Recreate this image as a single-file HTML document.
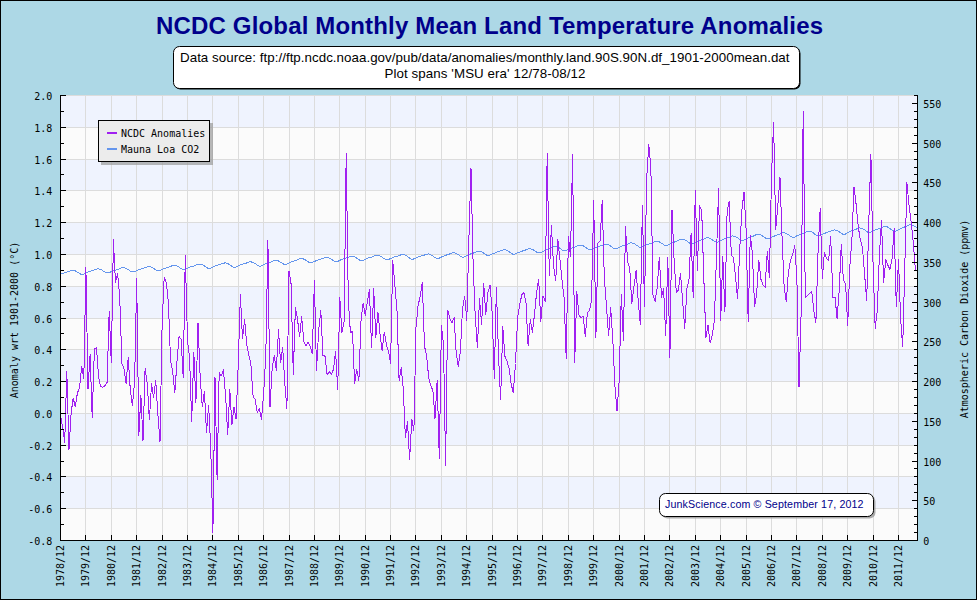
<!DOCTYPE html>
<html lang="en"><head><meta charset="utf-8">
<title>NCDC Global Monthly Mean Land Temperature Anomalies</title>
<style>
html,body{margin:0;padding:0;background:#add8e6;}
svg{display:block;}
.m{font-family:"DejaVu Sans Mono", "Liberation Mono", monospace;font-size:10px;fill:#000;}
.s{font-family:"Liberation Sans", Arial, sans-serif;}
</style></head><body>
<svg width="977" height="600" viewBox="0 0 977 600">
<rect x="0" y="0" width="977" height="600" fill="#add8e6"/>
<rect x="0.5" y="0.5" width="976" height="599" fill="none" stroke="#000" stroke-width="1"/>
<g shape-rendering="crispEdges">
<rect x="60" y="95" width="857" height="445" fill="#fbfbfb"/>
<rect x="60" y="95" width="857" height="32" fill="#eff3fe"/>
<rect x="60" y="159" width="857" height="31" fill="#eff3fe"/>
<rect x="60" y="222" width="857" height="32" fill="#eff3fe"/>
<rect x="60" y="286" width="857" height="32" fill="#eff3fe"/>
<rect x="60" y="349" width="857" height="32" fill="#eff3fe"/>
<rect x="60" y="413" width="857" height="32" fill="#eff3fe"/>
<rect x="60" y="476" width="857" height="32" fill="#eff3fe"/>
<path d="M60 95.5H917M60 127.5H917M60 159.5H917M60 190.5H917M60 222.5H917M60 254.5H917M60 286.5H917M60 318.5H917M60 349.5H917M60 381.5H917M60 413.5H917M60 445.5H917M60 476.5H917M60 508.5H917M85.5 95V540M111.5 95V540M136.5 95V540M162.5 95V540M187.5 95V540M212.5 95V540M238.5 95V540M263.5 95V540M289.5 95V540M314.5 95V540M339.5 95V540M365.5 95V540M390.5 95V540M415.5 95V540M441.5 95V540M466.5 95V540M492.5 95V540M517.5 95V540M542.5 95V540M568.5 95V540M593.5 95V540M619.5 95V540M644.5 95V540M669.5 95V540M695.5 95V540M720.5 95V540M746.5 95V540M771.5 95V540M796.5 95V540M822.5 95V540M847.5 95V540M873.5 95V540M898.5 95V540" stroke="#dcdcdc" stroke-width="1" fill="none"/>
</g>
<polyline points="60.0,274.5 62.1,273.6 64.2,272.8 66.3,272.3 68.5,271.6 70.6,270.7 72.7,270.3 74.8,270.7 76.9,271.8 79.0,273.2 81.2,274.4 83.3,274.3 85.4,273.3 87.5,272.3 89.6,271.5 91.7,270.9 93.9,270.2 96.0,269.2 98.1,268.8 100.2,269.2 102.3,270.3 104.4,271.8 106.6,272.9 108.7,272.9 110.8,271.9 112.9,271.0 115.0,270.2 117.1,269.6 119.2,268.9 121.4,268.0 123.5,267.6 125.6,268.1 127.7,269.2 129.8,270.7 131.9,271.9 134.1,271.8 136.2,270.9 138.3,269.9 140.4,269.1 142.5,268.6 144.6,267.9 146.8,267.0 148.9,266.6 151.0,267.0 153.1,268.1 155.2,269.6 157.3,270.8 159.5,270.7 161.6,269.7 163.7,268.8 165.8,268.0 167.9,267.4 170.0,266.7 172.2,265.7 174.3,265.3 176.4,265.8 178.5,266.9 180.6,268.3 182.7,269.5 184.8,269.5 187.0,268.5 189.1,267.5 191.2,266.7 193.3,266.1 195.4,265.4 197.5,264.5 199.7,264.0 201.8,264.5 203.9,265.6 206.0,267.1 208.1,268.3 210.2,268.3 212.4,267.3 214.5,266.3 216.6,265.5 218.7,264.9 220.8,264.2 222.9,263.3 225.1,262.9 227.2,263.3 229.3,264.5 231.4,266.0 233.5,267.2 235.6,267.2 237.7,266.2 239.9,265.2 242.0,264.4 244.1,263.8 246.2,263.1 248.3,262.2 250.4,261.8 252.6,262.2 254.7,263.3 256.8,264.8 258.9,266.0 261.0,266.0 263.1,264.9 265.3,264.0 267.4,263.1 269.5,262.5 271.6,261.8 273.7,260.8 275.8,260.4 278.0,260.8 280.1,261.9 282.2,263.3 284.3,264.5 286.4,264.4 288.5,263.3 290.6,262.3 292.8,261.4 294.9,260.8 297.0,260.0 299.1,259.0 301.2,258.5 303.3,258.9 305.5,260.0 307.6,261.5 309.7,262.7 311.8,262.7 313.9,261.7 316.0,260.8 318.2,259.9 320.3,259.3 322.4,258.6 324.5,257.6 326.6,257.2 328.7,257.7 330.9,258.8 333.0,260.4 335.1,261.6 337.2,261.6 339.3,260.6 341.4,259.6 343.6,258.8 345.7,258.2 347.8,257.5 349.9,256.6 352.0,256.2 354.1,256.6 356.2,257.8 358.4,259.3 360.5,260.6 362.6,260.6 364.7,259.6 366.8,258.6 368.9,257.8 371.1,257.2 373.2,256.5 375.3,255.6 377.4,255.2 379.5,255.7 381.6,256.9 383.8,258.4 385.9,259.7 388.0,259.7 390.1,258.8 392.2,257.8 394.3,257.0 396.5,256.5 398.6,255.8 400.7,254.9 402.8,254.5 404.9,255.0 407.0,256.2 409.1,257.8 411.3,259.1 413.4,259.1 415.5,258.2 417.6,257.2 419.7,256.4 421.8,255.9 424.0,255.2 426.1,254.3 428.2,253.9 430.3,254.4 432.4,255.6 434.5,257.2 436.7,258.4 438.8,258.4 440.9,257.3 443.0,256.3 445.1,255.5 447.2,254.8 449.4,254.1 451.5,253.1 453.6,252.7 455.7,253.1 457.8,254.3 459.9,255.8 462.0,257.0 464.2,257.0 466.3,255.9 468.4,254.9 470.5,254.0 472.6,253.3 474.7,252.6 476.9,251.6 479.0,251.1 481.1,251.5 483.2,252.7 485.3,254.2 487.4,255.5 489.6,255.4 491.7,254.3 493.8,253.4 495.9,252.5 498.0,251.8 500.1,251.1 502.3,250.1 504.4,249.6 506.5,250.1 508.6,251.3 510.7,252.9 512.8,254.2 515.0,254.2 517.1,253.1 519.2,252.2 521.3,251.3 523.4,250.8 525.5,250.0 527.6,249.1 529.8,248.7 531.9,249.2 534.0,250.3 536.1,251.8 538.2,253.0 540.3,252.9 542.5,251.7 544.6,250.6 546.7,249.7 548.8,248.9 550.9,248.1 553.0,247.0 555.2,246.5 557.3,246.9 559.4,248.0 561.5,249.6 563.6,250.8 565.7,250.8 567.9,249.7 570.0,248.7 572.1,247.9 574.2,247.2 576.3,246.5 578.4,245.5 580.5,245.1 582.7,245.5 584.8,246.7 586.9,248.3 589.0,249.6 591.1,249.6 593.2,248.6 595.4,247.6 597.5,246.8 599.6,246.2 601.7,245.4 603.8,244.5 605.9,244.1 608.1,244.6 610.2,245.8 612.3,247.4 614.4,248.6 616.5,248.6 618.6,247.5 620.8,246.5 622.9,245.7 625.0,245.0 627.1,244.3 629.2,243.3 631.3,242.8 633.4,243.3 635.6,244.5 637.7,246.0 639.8,247.3 641.9,247.2 644.0,246.1 646.1,245.1 648.3,244.2 650.4,243.5 652.5,242.7 654.6,241.7 656.7,241.2 658.8,241.6 661.0,242.8 663.1,244.3 665.2,245.5 667.3,245.5 669.4,244.3 671.5,243.2 673.7,242.3 675.8,241.6 677.9,240.7 680.0,239.7 682.1,239.2 684.2,239.6 686.4,240.7 688.5,242.4 690.6,243.6 692.7,243.6 694.8,242.5 696.9,241.5 699.0,240.6 701.2,240.0 703.3,239.2 705.4,238.2 707.5,237.7 709.6,238.2 711.7,239.4 713.9,240.9 716.0,242.2 718.1,242.1 720.2,241.0 722.3,239.9 724.4,239.0 726.6,238.3 728.7,237.5 730.8,236.4 732.9,235.9 735.0,236.4 737.1,237.5 739.3,239.1 741.4,240.4 743.5,240.4 745.6,239.2 747.7,238.2 749.8,237.2 751.9,236.6 754.1,235.8 756.2,234.7 758.3,234.2 760.4,234.7 762.5,235.9 764.6,237.5 766.8,238.8 768.9,238.7 771.0,237.6 773.1,236.6 775.2,235.7 777.3,235.0 779.5,234.2 781.6,233.2 783.7,232.7 785.8,233.2 787.9,234.4 790.0,236.0 792.2,237.3 794.3,237.3 796.4,236.1 798.5,235.1 800.6,234.2 802.7,233.5 804.8,232.7 807.0,231.7 809.1,231.3 811.2,231.7 813.3,232.9 815.4,234.6 817.5,235.9 819.7,235.8 821.8,234.7 823.9,233.7 826.0,232.8 828.1,232.1 830.2,231.3 832.4,230.3 834.5,229.8 836.6,230.3 838.7,231.5 840.8,233.1 842.9,234.3 845.1,234.3 847.2,233.1 849.3,232.0 851.4,231.0 853.5,230.3 855.6,229.5 857.8,228.4 859.9,227.9 862.0,228.3 864.1,229.5 866.2,231.2 868.3,232.5 870.4,232.5 872.6,231.3 874.7,230.3 876.8,229.4 878.9,228.7 881.0,227.9 883.1,226.9 885.3,226.5 887.4,226.9 889.5,228.2 891.6,229.8 893.7,231.1 895.8,231.0 898.0,229.9 900.1,228.8 902.2,227.8 904.3,227.1 906.4,226.3 908.5,225.2 910.7,224.7 912.8,225.2 914.9,226.4 917.0,228.0" fill="none" stroke="#6495ed" stroke-width="1" stroke-linejoin="round" shape-rendering="crispEdges"/>
<polyline points="60.5,414.4 62.6,427.5 64.7,442.2 66.8,371.0 69.0,449.6 71.1,413.0 73.2,398.0 75.3,407.0 77.4,393.0 79.5,388.0 81.7,366.0 83.8,378.3 85.9,267.8 88.0,389.0 90.1,354.6 92.2,417.7 94.4,348.8 96.5,348.0 98.6,377.5 100.7,386.5 102.8,387.4 104.9,385.6 107.1,382.5 109.2,311.2 111.3,362.8 113.4,239.9 115.5,282.5 117.6,274.0 119.7,296.0 121.9,363.6 124.0,368.5 126.1,383.5 128.2,357.8 130.3,390.0 132.4,405.4 134.6,382.0 136.7,278.9 138.8,435.7 140.9,395.6 143.0,440.6 145.1,368.5 147.3,384.0 149.4,420.0 151.5,384.0 153.6,398.0 155.7,380.0 157.8,413.0 160.0,442.2 162.1,325.0 164.2,277.3 166.3,283.0 168.4,302.0 170.5,360.0 172.7,371.5 174.8,393.0 176.9,362.8 179.0,336.6 181.1,339.0 183.2,377.5 185.3,255.0 187.5,340.0 189.6,358.7 191.7,421.8 193.8,352.1 195.9,402.9 198.0,323.0 200.2,377.5 202.3,407.0 204.4,391.4 206.5,432.4 208.6,405.4 210.7,446.0 212.9,533.0 215.0,377.5 217.1,479.4 219.2,372.6 221.3,375.9 223.4,370.0 225.6,395.5 227.7,435.0 229.8,389.8 231.9,425.0 234.0,407.0 236.1,419.0 238.2,365.0 240.4,294.8 242.5,339.0 244.6,319.3 246.7,344.0 248.8,354.6 250.9,364.4 253.1,396.3 255.2,399.6 257.3,412.7 259.4,408.6 261.5,419.5 263.6,394.0 265.8,355.0 267.9,239.9 270.0,407.0 272.1,369.3 274.2,355.4 276.3,370.1 278.5,330.0 280.6,362.8 282.7,347.2 284.8,384.0 286.9,408.3 289.0,271.0 291.1,284.0 293.3,374.2 295.4,307.0 297.5,319.3 299.6,336.6 301.7,316.9 303.8,341.5 306.0,345.6 308.1,342.3 310.2,346.4 312.3,353.7 314.4,280.0 316.5,370.1 318.7,330.0 320.8,310.3 322.9,355.4 325.0,356.2 327.1,375.0 329.2,371.8 331.4,374.2 333.5,369.3 335.6,351.3 337.7,389.8 339.8,297.2 341.9,332.5 344.1,322.0 346.2,153.8 348.3,300.0 350.4,332.5 352.5,331.5 354.6,384.0 356.7,369.3 358.9,380.5 361.0,321.0 363.1,303.0 365.2,315.2 367.3,302.0 369.4,289.9 371.6,348.0 373.7,288.2 375.8,337.4 377.9,312.0 380.0,333.5 382.1,350.5 384.3,332.0 386.4,344.7 388.5,351.3 390.6,363.6 392.7,260.4 394.8,284.0 397.0,311.0 399.1,380.5 401.2,367.7 403.3,389.0 405.4,438.0 407.5,421.3 409.6,459.3 411.8,419.3 413.9,430.7 416.0,327.0 418.1,305.4 420.2,296.4 422.3,282.5 424.5,346.0 426.6,356.2 428.7,377.5 430.8,385.7 432.9,390.6 435.0,418.5 437.2,380.0 439.3,458.7 441.4,325.9 443.5,344.4 445.6,465.3 447.7,310.3 449.9,318.5 452.0,322.6 454.1,317.7 456.2,353.0 458.3,366.8 460.4,351.3 462.5,308.7 464.7,296.4 466.8,320.2 468.9,238.4 471.0,168.0 473.1,263.0 475.2,315.2 477.4,348.0 479.5,298.9 481.6,324.3 483.7,283.3 485.8,314.4 487.9,292.3 490.1,285.0 492.2,313.6 494.3,378.3 496.4,287.1 498.5,354.6 500.6,399.6 502.8,326.7 504.9,356.2 507.0,361.0 509.1,368.5 511.2,384.0 513.3,393.0 515.5,363.5 517.6,318.0 519.7,304.6 521.8,294.8 523.9,292.3 526.0,303.0 528.1,346.0 530.3,319.0 532.4,332.3 534.5,314.4 536.6,292.3 538.7,279.2 540.8,322.0 543.0,295.6 545.1,301.3 547.2,153.3 549.3,276.0 551.4,225.3 553.5,265.3 555.7,280.9 557.8,239.5 559.9,258.7 562.0,280.0 564.1,298.0 566.2,358.5 568.4,236.5 570.5,256.3 572.6,154.1 574.7,362.6 576.8,291.5 578.9,315.2 581.0,317.7 583.2,316.0 585.3,336.4 587.4,312.8 589.5,310.3 591.6,300.0 593.7,200.0 595.9,337.2 598.0,243.2 600.1,240.7 602.2,200.9 604.3,277.0 606.4,305.4 608.6,335.6 610.7,307.9 612.8,339.7 614.9,385.5 617.0,411.4 619.1,382.2 621.3,294.8 623.4,340.5 625.5,226.8 627.6,262.0 629.7,267.8 631.8,303.8 633.9,287.4 636.1,270.2 638.2,300.5 640.3,324.5 642.4,205.5 644.5,307.0 646.6,180.0 648.8,144.1 650.9,168.7 653.0,294.8 655.1,301.3 657.2,287.4 659.3,257.1 661.5,297.2 663.6,289.0 665.7,335.6 667.8,257.9 669.9,357.7 672.0,210.1 674.2,262.0 676.3,292.3 678.4,289.9 680.5,273.5 682.6,300.5 684.7,328.3 686.9,289.0 689.0,279.2 691.1,233.4 693.2,298.0 695.3,190.0 697.4,270.2 699.5,205.8 701.7,210.4 703.8,277.6 705.9,338.0 708.0,325.4 710.1,342.9 712.2,335.6 714.4,320.0 716.5,254.7 718.6,188.8 720.7,320.5 722.8,256.3 724.9,312.0 727.1,212.0 729.2,201.0 731.3,254.7 733.4,257.9 735.5,276.0 737.6,298.9 739.8,248.0 741.9,210.0 744.0,192.1 746.1,230.0 748.2,321.3 750.3,235.0 752.4,253.5 754.6,307.0 756.7,293.0 758.8,260.2 760.9,279.2 763.0,285.0 765.1,287.4 767.3,251.0 769.4,278.0 771.5,176.0 773.6,122.1 775.7,229.8 777.8,206.0 780.0,177.2 782.1,238.0 784.2,288.0 786.3,302.0 788.4,272.0 790.5,260.5 792.7,254.0 794.8,245.4 796.9,279.0 799.0,387.1 801.1,314.0 803.2,111.8 805.3,297.2 807.5,295.6 809.6,293.3 811.7,291.5 813.8,310.5 815.9,322.6 818.0,253.0 820.2,208.0 822.3,278.4 824.4,252.4 826.5,258.5 828.6,261.0 830.7,236.8 832.9,298.0 835.0,297.2 837.1,318.5 839.2,290.7 841.3,244.0 843.4,280.0 845.6,284.0 847.7,325.9 849.8,267.2 851.9,240.0 854.0,187.2 856.1,204.2 858.3,227.2 860.4,240.0 862.5,248.0 864.6,274.3 866.7,300.5 868.8,222.0 870.9,154.0 873.1,266.0 875.2,328.4 877.3,310.3 879.4,255.0 881.5,221.0 883.6,282.5 885.8,259.8 887.9,265.3 890.0,269.4 892.1,258.7 894.2,228.0 896.3,307.0 898.5,259.6 900.6,318.5 902.7,346.7 904.8,267.0 906.9,182.8 909.0,204.9 911.2,222.0 913.3,243.0 915.4,270.2" fill="none" stroke="#a020f0" stroke-width="1" stroke-linejoin="round" shape-rendering="crispEdges"/>
<g shape-rendering="crispEdges" stroke="#000" stroke-width="1" fill="none">
<path d="M60.5 95V541M917.5 95V541M60 540.5H918M60 95.5h6M60 111.5h4M60 127.5h6M60 143.5h4M60 159.5h6M60 174.5h4M60 190.5h6M60 206.5h4M60 222.5h6M60 238.5h4M60 254.5h6M60 270.5h4M60 286.5h6M60 302.5h4M60 318.5h6M60 333.5h4M60 349.5h6M60 365.5h4M60 381.5h6M60 397.5h4M60 413.5h6M60 429.5h4M60 445.5h6M60 461.5h4M60 476.5h6M60 492.5h4M60 508.5h6M60 524.5h4M60 540.5h6M918 540.5h-6M918 532.5h-4M918 524.5h-4M918 516.5h-4M918 508.5h-4M918 500.5h-6M918 492.5h-4M918 484.5h-4M918 476.5h-4M918 468.5h-4M918 461.5h-6M918 453.5h-4M918 445.5h-4M918 437.5h-4M918 429.5h-4M918 421.5h-6M918 413.5h-4M918 405.5h-4M918 397.5h-4M918 389.5h-4M918 381.5h-6M918 373.5h-4M918 365.5h-4M918 357.5h-4M918 349.5h-4M918 341.5h-6M918 333.5h-4M918 325.5h-4M918 318.5h-4M918 310.5h-4M918 302.5h-6M918 294.5h-4M918 286.5h-4M918 278.5h-4M918 270.5h-4M918 262.5h-6M918 254.5h-4M918 246.5h-4M918 238.5h-4M918 230.5h-4M918 222.5h-6M918 214.5h-4M918 206.5h-4M918 198.5h-4M918 190.5h-4M918 182.5h-6M918 174.5h-4M918 167.5h-4M918 159.5h-4M918 151.5h-4M918 143.5h-6M918 135.5h-4M918 127.5h-4M918 119.5h-4M918 111.5h-4M918 103.5h-6M918 95.5h-4M85.5 540v-5M111.5 540v-5M136.5 540v-5M162.5 540v-5M187.5 540v-5M212.5 540v-5M238.5 540v-5M263.5 540v-5M289.5 540v-5M314.5 540v-5M339.5 540v-5M365.5 540v-5M390.5 540v-5M415.5 540v-5M441.5 540v-5M466.5 540v-5M492.5 540v-5M517.5 540v-5M542.5 540v-5M568.5 540v-5M593.5 540v-5M619.5 540v-5M644.5 540v-5M669.5 540v-5M695.5 540v-5M720.5 540v-5M746.5 540v-5M771.5 540v-5M796.5 540v-5M822.5 540v-5M847.5 540v-5M873.5 540v-5M898.5 540v-5"/>
</g>
<text class="m" text-anchor="end" transform="translate(52.3 99.6) scale(1 1.06)">2.0</text>
<text class="m" text-anchor="end" transform="translate(52.3 131.6) scale(1 1.06)">1.8</text>
<text class="m" text-anchor="end" transform="translate(52.3 163.6) scale(1 1.06)">1.6</text>
<text class="m" text-anchor="end" transform="translate(52.3 194.6) scale(1 1.06)">1.4</text>
<text class="m" text-anchor="end" transform="translate(52.3 226.6) scale(1 1.06)">1.2</text>
<text class="m" text-anchor="end" transform="translate(52.3 258.6) scale(1 1.06)">1.0</text>
<text class="m" text-anchor="end" transform="translate(52.3 290.6) scale(1 1.06)">0.8</text>
<text class="m" text-anchor="end" transform="translate(52.3 322.6) scale(1 1.06)">0.6</text>
<text class="m" text-anchor="end" transform="translate(52.3 353.6) scale(1 1.06)">0.4</text>
<text class="m" text-anchor="end" transform="translate(52.3 385.6) scale(1 1.06)">0.2</text>
<text class="m" text-anchor="end" transform="translate(52.3 417.6) scale(1 1.06)">0.0</text>
<text class="m" text-anchor="end" transform="translate(52.3 449.6) scale(1 1.06)">-0.2</text>
<text class="m" text-anchor="end" transform="translate(52.3 480.6) scale(1 1.06)">-0.4</text>
<text class="m" text-anchor="end" transform="translate(52.3 512.6) scale(1 1.06)">-0.6</text>
<text class="m" text-anchor="end" transform="translate(52.3 544.6) scale(1 1.06)">-0.8</text>
<text class="m" text-anchor="start" transform="translate(923.3 544.6) scale(1 1.06)">0</text>
<text class="m" text-anchor="start" transform="translate(923.3 504.6) scale(1 1.06)">50</text>
<text class="m" text-anchor="start" transform="translate(923.3 465.6) scale(1 1.06)">100</text>
<text class="m" text-anchor="start" transform="translate(923.3 425.6) scale(1 1.06)">150</text>
<text class="m" text-anchor="start" transform="translate(923.3 385.6) scale(1 1.06)">200</text>
<text class="m" text-anchor="start" transform="translate(923.3 345.6) scale(1 1.06)">250</text>
<text class="m" text-anchor="start" transform="translate(923.3 306.6) scale(1 1.06)">300</text>
<text class="m" text-anchor="start" transform="translate(923.3 266.6) scale(1 1.06)">350</text>
<text class="m" text-anchor="start" transform="translate(923.3 226.6) scale(1 1.06)">400</text>
<text class="m" text-anchor="start" transform="translate(923.3 186.6) scale(1 1.06)">450</text>
<text class="m" text-anchor="start" transform="translate(923.3 147.6) scale(1 1.06)">500</text>
<text class="m" text-anchor="start" transform="translate(923.3 107.6) scale(1 1.06)">550</text>
<text class="m" text-anchor="end" transform="translate(64.2 545.0) rotate(-90) scale(1 1.06)">1978/12</text>
<text class="m" text-anchor="end" transform="translate(89.2 545.0) rotate(-90) scale(1 1.06)">1979/12</text>
<text class="m" text-anchor="end" transform="translate(115.2 545.0) rotate(-90) scale(1 1.06)">1980/12</text>
<text class="m" text-anchor="end" transform="translate(140.2 545.0) rotate(-90) scale(1 1.06)">1981/12</text>
<text class="m" text-anchor="end" transform="translate(166.2 545.0) rotate(-90) scale(1 1.06)">1982/12</text>
<text class="m" text-anchor="end" transform="translate(191.2 545.0) rotate(-90) scale(1 1.06)">1983/12</text>
<text class="m" text-anchor="end" transform="translate(216.2 545.0) rotate(-90) scale(1 1.06)">1984/12</text>
<text class="m" text-anchor="end" transform="translate(242.2 545.0) rotate(-90) scale(1 1.06)">1985/12</text>
<text class="m" text-anchor="end" transform="translate(267.2 545.0) rotate(-90) scale(1 1.06)">1986/12</text>
<text class="m" text-anchor="end" transform="translate(293.2 545.0) rotate(-90) scale(1 1.06)">1987/12</text>
<text class="m" text-anchor="end" transform="translate(318.2 545.0) rotate(-90) scale(1 1.06)">1988/12</text>
<text class="m" text-anchor="end" transform="translate(343.2 545.0) rotate(-90) scale(1 1.06)">1989/12</text>
<text class="m" text-anchor="end" transform="translate(369.2 545.0) rotate(-90) scale(1 1.06)">1990/12</text>
<text class="m" text-anchor="end" transform="translate(394.2 545.0) rotate(-90) scale(1 1.06)">1991/12</text>
<text class="m" text-anchor="end" transform="translate(419.2 545.0) rotate(-90) scale(1 1.06)">1992/12</text>
<text class="m" text-anchor="end" transform="translate(445.2 545.0) rotate(-90) scale(1 1.06)">1993/12</text>
<text class="m" text-anchor="end" transform="translate(470.2 545.0) rotate(-90) scale(1 1.06)">1994/12</text>
<text class="m" text-anchor="end" transform="translate(496.2 545.0) rotate(-90) scale(1 1.06)">1995/12</text>
<text class="m" text-anchor="end" transform="translate(521.2 545.0) rotate(-90) scale(1 1.06)">1996/12</text>
<text class="m" text-anchor="end" transform="translate(546.2 545.0) rotate(-90) scale(1 1.06)">1997/12</text>
<text class="m" text-anchor="end" transform="translate(572.2 545.0) rotate(-90) scale(1 1.06)">1998/12</text>
<text class="m" text-anchor="end" transform="translate(597.2 545.0) rotate(-90) scale(1 1.06)">1999/12</text>
<text class="m" text-anchor="end" transform="translate(623.2 545.0) rotate(-90) scale(1 1.06)">2000/12</text>
<text class="m" text-anchor="end" transform="translate(648.2 545.0) rotate(-90) scale(1 1.06)">2001/12</text>
<text class="m" text-anchor="end" transform="translate(673.2 545.0) rotate(-90) scale(1 1.06)">2002/12</text>
<text class="m" text-anchor="end" transform="translate(699.2 545.0) rotate(-90) scale(1 1.06)">2003/12</text>
<text class="m" text-anchor="end" transform="translate(724.2 545.0) rotate(-90) scale(1 1.06)">2004/12</text>
<text class="m" text-anchor="end" transform="translate(750.2 545.0) rotate(-90) scale(1 1.06)">2005/12</text>
<text class="m" text-anchor="end" transform="translate(775.2 545.0) rotate(-90) scale(1 1.06)">2006/12</text>
<text class="m" text-anchor="end" transform="translate(800.2 545.0) rotate(-90) scale(1 1.06)">2007/12</text>
<text class="m" text-anchor="end" transform="translate(826.2 545.0) rotate(-90) scale(1 1.06)">2008/12</text>
<text class="m" text-anchor="end" transform="translate(851.2 545.0) rotate(-90) scale(1 1.06)">2009/12</text>
<text class="m" text-anchor="end" transform="translate(877.2 545.0) rotate(-90) scale(1 1.06)">2010/12</text>
<text class="m" text-anchor="end" transform="translate(902.2 545.0) rotate(-90) scale(1 1.06)">2011/12</text>
<text class="m" text-anchor="middle" transform="translate(18.0 320.0) rotate(-90) scale(1 1.06)">Anomaly wrt 1901-2000 (°C)</text>
<text class="m" text-anchor="middle" transform="translate(967.8 319.0) rotate(-90) scale(1 1.06)">Atmospheric Carbon Dioxide (ppmv)</text>
<text class="s" x="156" y="33.6" font-size="24" font-weight="bold" fill="#00008b" textLength="667" lengthAdjust="spacing">NCDC Global Monthly Mean Land Temperature Anomalies</text>
<rect x="174.5" y="47.5" width="626" height="42" rx="6" ry="6" fill="#000"/>
<rect x="173.5" y="46.5" width="626" height="42" rx="6" ry="6" fill="#fff" stroke="#000" stroke-width="1"/>
<text class="s" x="180" y="62" font-size="13.33" fill="#000" textLength="609.5" lengthAdjust="spacing">Data source: ftp://ftp.ncdc.noaa.gov/pub/data/anomalies/monthly.land.90S.90N.df_1901-2000mean.dat</text>
<text class="s" x="384.5" y="77.7" font-size="13.33" fill="#000" textLength="201" lengthAdjust="spacing">Plot spans 'MSU era' 12/78-08/12</text>
<g shape-rendering="crispEdges">
<rect x="101" y="123" width="112" height="42" fill="#9a9a9a" fill-opacity="0.7"/>
<rect x="98.5" y="120.5" width="111" height="41" fill="#ececec" stroke="#000" stroke-width="1"/>
<rect x="107" y="132" width="10" height="2" fill="#a020f0"/>
<rect x="107" y="148" width="10" height="2" fill="#6495ed"/>
</g>
<text class="m" text-anchor="start" transform="translate(121.0 137.0) scale(1 1.06)">NCDC Anomalies</text>
<text class="m" text-anchor="start" transform="translate(121.0 153.0) scale(1 1.06)">Mauna Loa CO2</text>
<rect x="661.5" y="495.5" width="214" height="23" rx="6" ry="6" fill="#999" fill-opacity="0.8"/>
<rect x="659.5" y="493.5" width="214" height="23" rx="6" ry="6" fill="#fff" stroke="#000" stroke-width="1"/>
<text class="s" x="665" y="508" font-size="10.67" fill="#00008b" textLength="198.5" lengthAdjust="spacing">JunkScience.com © September 17, 2012</text>
</svg></body></html>
